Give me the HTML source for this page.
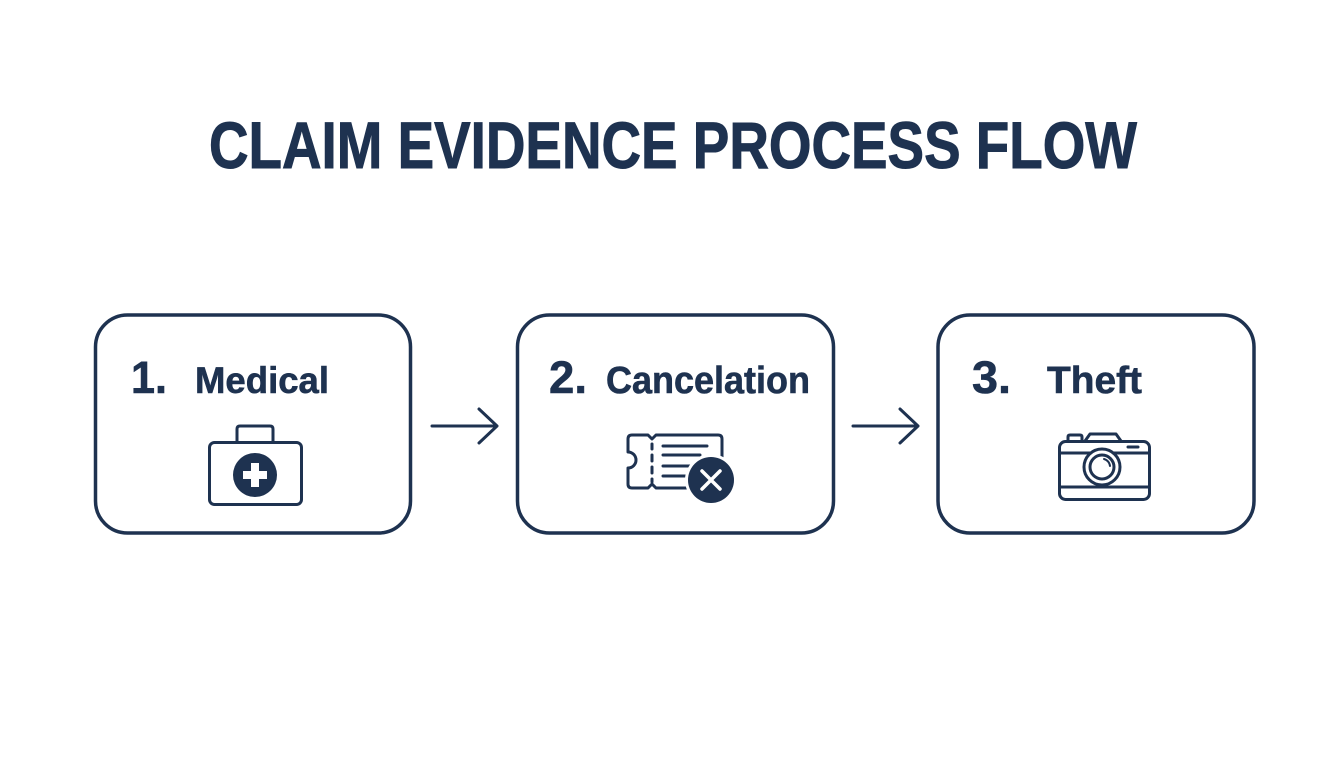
<!DOCTYPE html>
<html>
<head>
<meta charset="utf-8">
<style>
  html,body{margin:0;padding:0;background:#ffffff;}
  svg{display:block;}
  text{font-family:"Liberation Sans",sans-serif;font-weight:bold;fill:#1e3250;}
</style>
</head>
<body>
<svg width="1344" height="768" viewBox="0 0 1344 768" xmlns="http://www.w3.org/2000/svg">
  <rect width="1344" height="768" fill="#ffffff"/>
  <!-- Title -->
  <text x="209" y="168" font-size="66" textLength="928" lengthAdjust="spacingAndGlyphs" stroke="#1e3250" stroke-width="1">CLAIM EVIDENCE PROCESS FLOW</text>

  <!-- Boxes -->
  <g fill="none" stroke="#1e3250" stroke-width="3.5">
    <rect x="95.5" y="315" width="315" height="218" rx="32"/>
    <rect x="517.5" y="315" width="316" height="218" rx="32"/>
    <rect x="938" y="315" width="316" height="218" rx="32"/>
  </g>

  <!-- Labels -->
  <g stroke="#1e3250" stroke-width="0.6">
  <text x="131" y="393" font-size="45" textLength="36" lengthAdjust="spacingAndGlyphs">1.</text>
  <text x="195" y="393" font-size="37" textLength="134" lengthAdjust="spacingAndGlyphs">Medical</text>
  <text x="549" y="393" font-size="45" textLength="38" lengthAdjust="spacingAndGlyphs">2.</text>
  <text x="606" y="393" font-size="38" textLength="204" lengthAdjust="spacingAndGlyphs">Cancelation</text>
  <text x="972" y="393" font-size="45" textLength="39" lengthAdjust="spacingAndGlyphs">3.</text>
  <text x="1047" y="393" font-size="38" textLength="95" lengthAdjust="spacingAndGlyphs">Theft</text>
  </g>

  <!-- Arrows -->
  <g fill="none" stroke="#1e3250" stroke-width="3" stroke-linecap="round" stroke-linejoin="round">
    <path d="M432,426 H497 M479,409 L497,426 L479,443"/>
    <path d="M853,426 H918 M900,409 L918,426 L900,443"/>
  </g>

  <!-- Medical kit icon -->
  <g stroke="#1e3250" stroke-width="3" fill="none">
    <rect x="209.5" y="442.5" width="92" height="62" rx="5"/>
    <path d="M237,442 V429 Q237,426 240,426 H270 Q273,426 273,429 V442"/>
  </g>
  <circle cx="255" cy="475" r="22" fill="#1e3250"/>
  <rect x="251" y="463" width="8" height="24" fill="#ffffff"/>
  <rect x="243" y="471" width="24" height="8" fill="#ffffff"/>

  <!-- Ticket icon -->
  <g stroke="#1e3250" stroke-width="3" fill="none" stroke-linecap="round" stroke-linejoin="round">
    <path d="M700,488 H656 L652,484 L648,488 H632 Q628,488 628,484 V468 A8,8 0 0 0 628,452 V439 Q628,435 632,435 H648 L652,439 L656,435 H718 Q722,435 722,439 V462"/>
    <path d="M652,444 V449 M652,455 V461 M652,467 V473 M652,479 V482"/>
    <path d="M663,446 H707 M663,455 H700 M663,466 H693 M663,476 H688"/>
  </g>
  <circle cx="711" cy="480" r="26" fill="#ffffff"/>
  <circle cx="711" cy="480" r="23" fill="#1e3250"/>
  <path d="M702,471 L720,489 M720,471 L702,489" stroke="#ffffff" stroke-width="3.5" stroke-linecap="round"/>

  <!-- Camera icon -->
  <g stroke="#1e3250" stroke-width="3" fill="none" stroke-linecap="round" stroke-linejoin="round">
    <path d="M1085,441 L1090,434 H1116 L1121,441"/>
    <path d="M1068,441 V437 Q1068,435 1070,435 H1080 Q1082,435 1082,437 V441"/>
    <rect x="1059.5" y="441.5" width="90" height="58" rx="6"/>
    <path d="M1060,453 H1149 M1060,487 H1149"/>
    <path d="M1128,447 H1138"/>
  </g>
  <circle cx="1102" cy="467" r="18" fill="#ffffff" stroke="#1e3250" stroke-width="3"/>
  <circle cx="1102" cy="467" r="12" fill="none" stroke="#1e3250" stroke-width="3"/>
  <path d="M1104,459 A8,8 0 0 1 1110,466" fill="none" stroke="#1e3250" stroke-width="2" stroke-linecap="round"/>
</svg>
</body>
</html>
